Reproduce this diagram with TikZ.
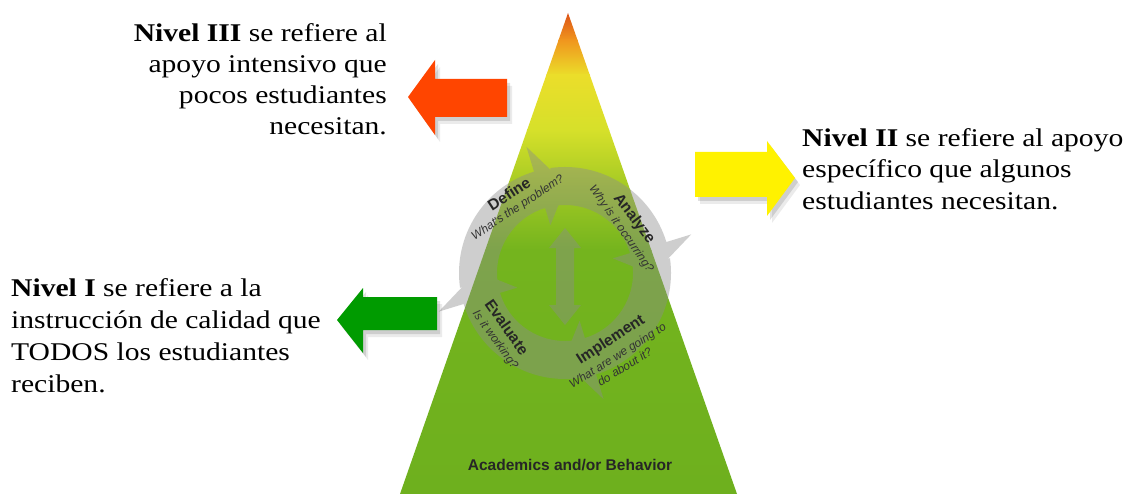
\documentclass[tikz,border=0pt]{standalone}
\usepackage{fontspec}
\setmainfont{Liberation Serif}[FakeStretch=1.16]
\newfontfamily\sansf{Liberation Sans}
\usetikzlibrary{calc}
\definecolor{gA}{RGB}{220,80,22}
\definecolor{gB}{RGB}{240,150,30}
\definecolor{gC}{RGB}{235,222,42}
\definecolor{gD}{RGB}{214,224,42}
\definecolor{gE}{RGB}{160,200,35}
\definecolor{gF}{RGB}{116,180,30}
\definecolor{gG}{RGB}{110,176,30}
\definecolor{ringgray}{RGB}{140,140,140}
\definecolor{redarrow}{RGB}{255,69,0}
\definecolor{yelarrow}{RGB}{255,242,0}
\definecolor{grnarrow}{RGB}{0,155,0}
\newcommand{\cycarrow}[2]{%
  \fill[ringgray] ($(cc)+(#1:106)$) arc[start angle=#1,end angle=#2,radius=106]
    -- ($(cc)+(#2:132)$) -- ($(cc)+({#2+18}:88)$) -- ($(cc)+(#2:50)$)
    -- ($(cc)+(#2:68)$) arc[start angle=#2,end angle=#1,radius=68] -- cycle;}
\newcommand{\shadowed}[2]{%
  \fill[black,opacity=0.08] [shift={(5,7)}] #2;
  \fill[black,opacity=0.12] [shift={(3,4)}] #2;
  \fill[#1] #2;}
\begin{document}
\begin{tikzpicture}[x=1pt,y=-1pt,
  maintxt/.style={font=\fontsize{25.5}{31.5}\selectfont, inner sep=0, text=black},
  lbl/.style={font=\sansf\bfseries\fontsize{15.5}{17}\selectfont, text=black!85, inner sep=0},
  sub/.style={font=\sansf\itshape\fontsize{11.8}{13.5}\selectfont, text=black!80, inner sep=0, align=center}]
\useasboundingbox (0,0) rectangle (1123,494);
\fill[white] (0,0) rectangle (1123,494);
\coordinate (apex) at (568,13);
\coordinate (bl) at (400,494);
\coordinate (br) at (737,494);
\coordinate (cc) at (565,273);
% pyramid
\begin{scope}
  \clip (apex) -- (br) -- (bl) -- cycle;
  \shade[top color=gA, bottom color=gB] (390,12) rectangle (750,40.5);
  \shade[top color=gB, bottom color=gC] (390,40) rectangle (750,75.5);
  \shade[top color=gC, bottom color=gD] (390,75) rectangle (750,130.5);
  \shade[top color=gD, bottom color=gE] (390,130) rectangle (750,190.5);
  \shade[top color=gE, bottom color=gF] (390,190) rectangle (750,250.5);
  \shade[top color=gF, bottom color=gG] (390,250) rectangle (750,495);
\end{scope}
% cycle arrows
\begin{scope}[transparency group, opacity=0.42]
  \cycarrow{172}{253}
  \cycarrow{262}{343}
  \cycarrow{352}{433}
  \cycarrow{82}{163}
  \fill[ringgray] (565,228) -- (581,248) -- (574,248) -- (574,305) -- (581,305)
    -- (565,325) -- (549,305) -- (556,305) -- (556,248) -- (549,248) -- cycle;
\end{scope}
\node[lbl, rotate=33] (def) at (509,194) {Define};
\node[sub, rotate=33.5] (defs) at (518,208) {What's the problem?};
\node[lbl, rotate=-53] (ana) at (634,219) {Analyze};
\node[sub, rotate=-55] (anas) at (621,229) {Why is it occurring?};
\node[lbl, rotate=-55] (eva) at (507,327) {Evaluate};
\node[sub, rotate=-54] (evas) at (495,340) {Is it working?};
\node[lbl, rotate=33] (imp) at (611,340) {Implement};
\node[sub, rotate=32] (imps) at (621,361) {What are we going to\\do about it?};
\node[lbl] (acad) at (570,465) {Academics and/or Behavior};
% block arrows
\shadowed{redarrow}{(408,97) -- (435,60) -- (435,79) -- (507,79) -- (507,117) -- (435,117) -- (435,135) -- cycle}
\shadowed{yelarrow}{(795,178) -- (767,141) -- (767,152) -- (695,152) -- (695,197) -- (767,197) -- (767,216) -- cycle}
\shadowed{grnarrow}{(337,320) -- (363,288) -- (363,297) -- (437,297) -- (437,330) -- (363,330) -- (363,353) -- cycle}
% texts
\node[maintxt, anchor=base east] (t3a) at (387,42) {\textbf{Nivel III} se refiere al};
\node[maintxt, anchor=base east] (t3b) at (387,73) {apoyo intensivo que};
\node[maintxt, anchor=base east] (t3c) at (387,104) {pocos estudiantes};
\node[maintxt, anchor=base east] (t3d) at (387,135) {necesitan.};
\node[maintxt, anchor=base west] (t2a) at (802,147) {\textbf{Nivel II} se refiere al apoyo};
\node[maintxt, anchor=base west] (t2b) at (802,178) {específico que algunos};
\node[maintxt, anchor=base west] (t2c) at (802,210) {estudiantes necesitan.};
\node[maintxt, anchor=base west] (t1a) at (11,296) {\textbf{Nivel I} se refiere a la};
\node[maintxt, anchor=base west] (t1b) at (11,328) {instrucción de calidad que};
\node[maintxt, anchor=base west] (t1c) at (11,360) {TODOS los estudiantes};
\node[maintxt, anchor=base west] (t1d) at (11,392) {reciben.};
\end{tikzpicture}
\end{document}
